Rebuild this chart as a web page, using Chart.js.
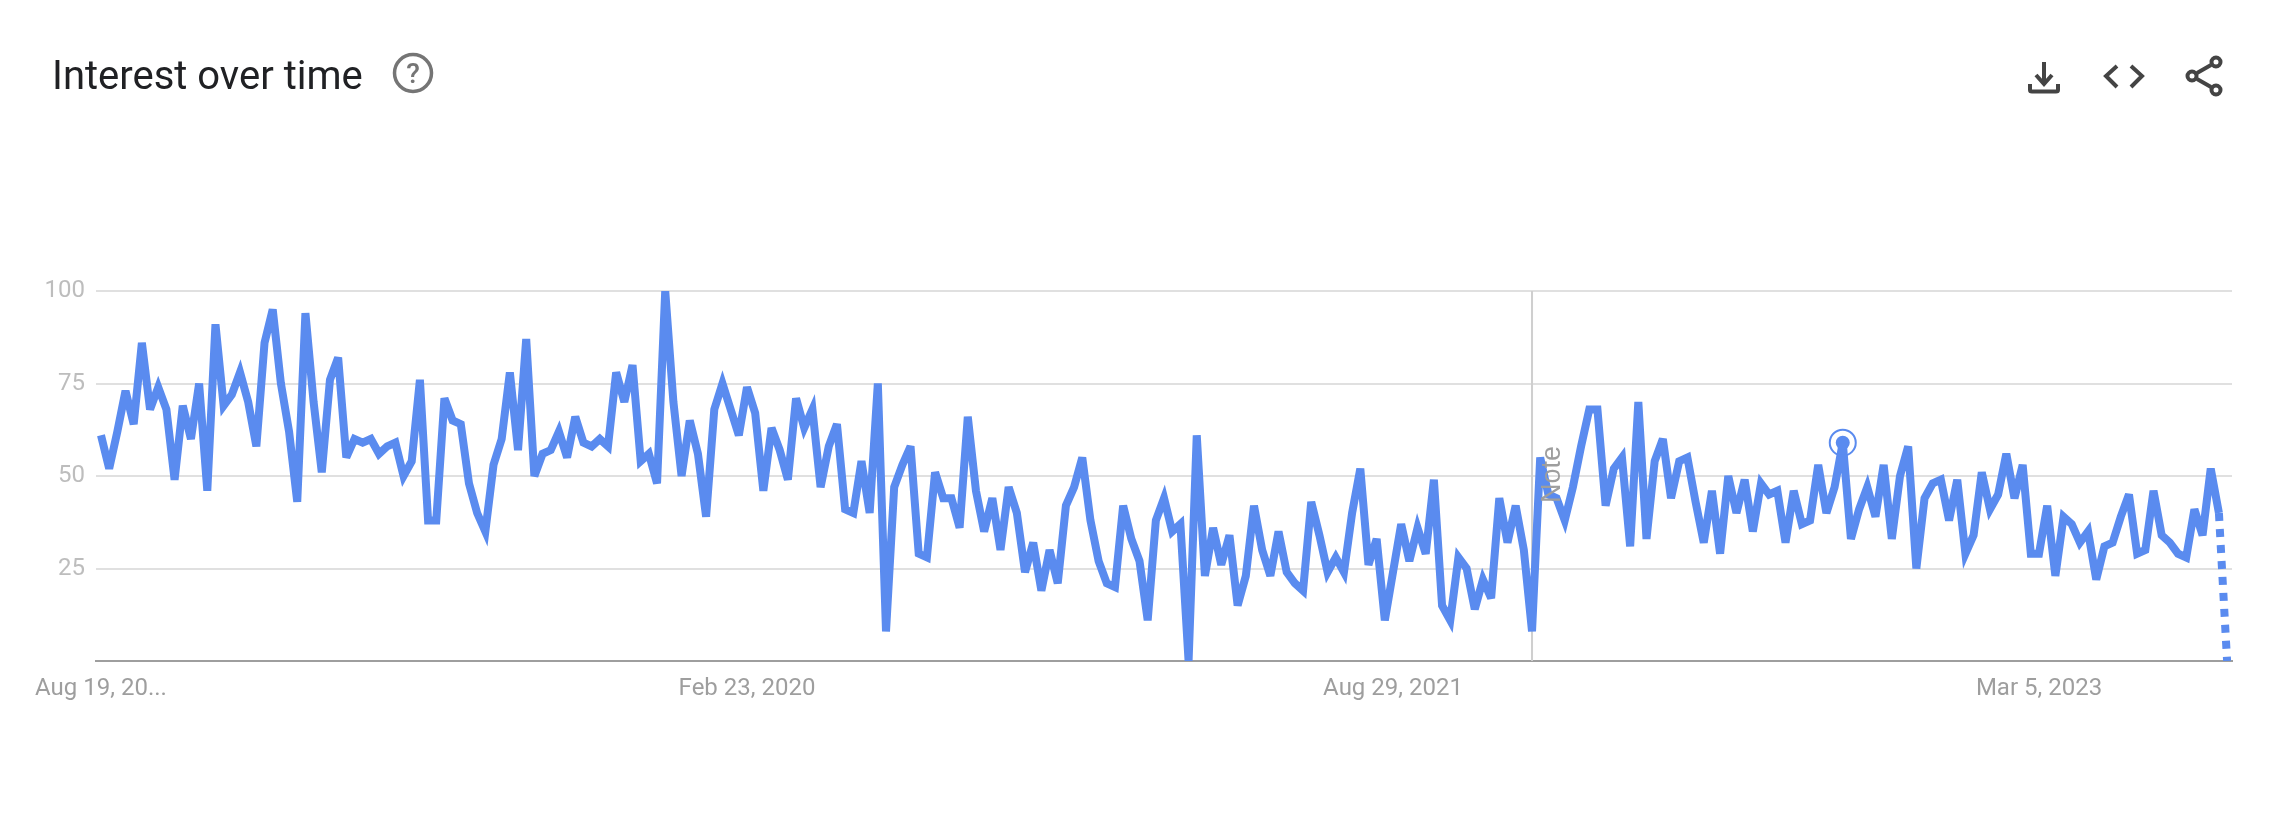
<!DOCTYPE html>
<html>
<head>
<meta charset="utf-8">
<title>Interest over time</title>
<script src="https://cdn.jsdelivr.net/npm/chart.js@4"></script>
<style>
    html, body { margin: 0; padding: 0; background: #fff; }
    #wrap { position: relative; width: 2272px; height: 824px; overflow: hidden; }
    #trendChart { position: absolute; left: 0; top: 0; }
    h2 {
        position: absolute; left: 52px; top: 52px; margin: 0;
        font: 400 40px Roboto, sans-serif; color: #202124; white-space: nowrap;
    }
    #icons { position: absolute; left: 0; top: 0; }
</style>
</head>
<body>
<div id="wrap">
    <canvas id="trendChart" width="2272" height="824"></canvas>
    <h2>Interest over time</h2>
    <svg id="icons" width="2272" height="130" fill="none">
        <circle cx="413" cy="73" r="18.5" stroke="#757575" stroke-width="3.5"/>
        <text x="413" y="83" text-anchor="middle" font-family="Roboto" font-size="28" font-weight="500" fill="#757575">?</text>
        <g stroke="#444" stroke-width="4">
            <path d="M2044 62V85M2036 75L2044 84L2052 75"/>
            <path d="M2030 84V90Q2030 91.500 2032 91.500H2056Q2058 91.500 2058 90V84"/>
            <path d="M2117 66L2106 76L2117 87M2131 66L2142 76L2131 87"/>
            <path d="M2197 73L2211 65M2197 79L2211 87"/>
            <circle cx="2192" cy="76" r="4.500"/>
            <circle cx="2216" cy="62" r="4.500"/>
            <circle cx="2216" cy="90" r="4.500"/>
        </g>
    </svg>
</div>
<script>
// weekly values
const interest = [
    61, 52, 62, 73, 64, 86, 68, 74, 68, 49, 69, 60, 75, 46, 91, 69, 72, 78, 70, 58,
    86, 95, 75, 62, 43, 94, 70, 51, 76, 82, 55, 60, 59, 60, 56, 58, 59, 50, 54, 76,
    38, 38, 71, 65, 64, 48, 40, 35, 53, 60, 78, 57, 87, 50, 56, 57, 62, 55, 66, 59,
    58, 60, 58, 78, 70, 80, 54, 56, 48, 100, 70, 50, 65, 56, 39, 68, 75, 68, 61, 74,
    67, 46, 63, 57, 49, 71, 63, 68, 47, 58, 64, 41, 40, 54, 40, 75, 8, 47, 53, 58,
    29, 28, 51, 44, 44, 36, 66, 46, 35, 44, 30, 47, 40, 24, 32, 19, 30, 21, 42, 47,
    55, 38, 27, 21, 20, 42, 33, 27, 11, 38, 44, 35, 37, 0, 61, 23, 36, 26, 34, 15,
    23, 42, 30, 23, 35, 24, 21, 19, 43, 34, 24, 28, 24, 40, 52, 26, 33, 11, 24, 37,
    27, 36, 29, 49, 15, 11, 28, 25, 14, 22, 17, 44, 32, 42, 30, 8, 55, 45, 44, 38,
    47, 58, 68, 68, 42, 52, 55, 31, 70, 33, 54, 60, 44, 54, 55, 43, 32, 46, 29, 50,
    40, 49, 35, 48, 45, 46, 32, 46, 37, 38, 53, 40, 47, 59, 33, 41, 47, 39, 53, 33,
    50, 58, 25, 44, 48, 49, 38, 49, 29, 34, 51, 41, 45, 56, 44, 53, 29, 29, 42, 23,
    39, 37, 32, 35, 22, 31, 32, 39, 45, 29, 30, 46, 34, 32, 29, 28, 41, 34, 52, 40,
    0
];
const xTickWeeks = [0, 79, 158, 237];
const xTickLabels = ['Aug 19, 20...', 'Feb 23, 2020', 'Aug 29, 2021', 'Mar 5, 2023'];
const yTicks = [25, 50, 75, 100];
const noteWeek = 175;
const hoverWeek = 213;

const lineBlue = '#5a8bef';
const partialFrom = interest.length - 2; // last week is incomplete, drawn dotted

const noteLabel = {
    id: 'noteLabel',
    beforeDatasetsDraw(chart) {
        // sharp spikes should flatten off instead of shooting past their value
        chart.ctx.miterLimit = 4;
    },
    afterDatasetsDraw(chart) {
        // "Note" label sitting next to the vertical marker
        const ctx = chart.ctx;
        ctx.save();
        ctx.translate(chart.scales.x.getPixelForValue(noteWeek) + 28, 503);
        ctx.rotate(-Math.PI / 2);
        ctx.font = '27px "Liberation Sans", sans-serif';
        ctx.fillStyle = '#9e9e9e';
        ctx.textBaseline = 'alphabetic';
        ctx.fillText('Note', 0, 0);
        ctx.restore();
    }
};

new Chart(document.getElementById('trendChart'), {
    type: 'line',
    data: {
        datasets: [
            {
                label: 'Note marker',
                data: [{ x: noteWeek, y: 0 }, { x: noteWeek, y: 100 }],
                borderColor: '#cfcfcf',
                borderWidth: 2,
                pointRadius: 0,
                clip: 0,
                order: 3
            },
            {
                label: 'Interest',
                data: interest.map((v, i) => ({ x: i, y: v })),
                borderColor: lineBlue,
                borderWidth: 8,
                pointRadius: 0,
                tension: 0,
                clip: 0,
                order: 2,
                segment: {
                    borderDash: ctx => ctx.p0DataIndex >= partialFrom ? [8, 8] : undefined
                }
            },
            {
                label: 'Hover dot',
                data: [{ x: hoverWeek, y: interest[hoverWeek] }],
                pointRadius: 7,
                pointBackgroundColor: lineBlue,
                pointBorderWidth: 0,
                showLine: false,
                order: 1
            },
            {
                label: 'Hover ring',
                data: [{ x: hoverWeek, y: interest[hoverWeek] }],
                pointRadius: 13,
                pointBackgroundColor: 'transparent',
                pointBorderColor: lineBlue,
                pointBorderWidth: 2,
                showLine: false,
                order: 0
            }
        ]
    },
    options: {
        responsive: false,
        animation: false,
        events: [],
        layout: { padding: { top: 291, right: 40, left: 0, bottom: 0 } },
        plugins: { legend: { display: false }, tooltip: { enabled: false } },
        scales: {
            x: {
                type: 'linear',
                min: -0.61,
                max: 260.6,
                afterFit: scale => { scale.height = 163; },
                afterBuildTicks: scale => { scale.ticks = xTickWeeks.map(v => ({ value: v })); },
                grid: { display: false },
                border: { color: '#9e9e9e', width: 2 },
                ticks: {
                    autoSkip: false,
                    maxRotation: 0,
                    padding: 6,
                    color: '#9e9e9e',
                    font: { family: 'Roboto', size: 24 },
                    callback: value => xTickLabels[xTickWeeks.indexOf(value)]
                }
            },
            y: {
                min: 0,
                max: 100,
                afterFit: scale => { scale.width = 96; },
                afterBuildTicks: scale => { scale.ticks = yTicks.map(v => ({ value: v })); },
                border: { display: false },
                grid: { color: '#e0e0e0', lineWidth: 2, drawTicks: false },
                ticks: {
                    padding: 11,
                    color: '#bdbdbd',
                    font: { family: 'Roboto', size: 24 }
                }
            }
        }
    },
    plugins: [noteLabel]
});
</script>
</body>
</html>
